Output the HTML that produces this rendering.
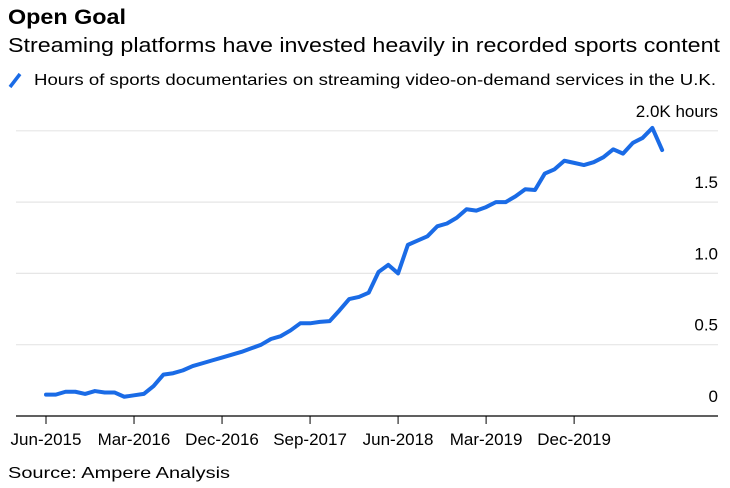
<!DOCTYPE html>
<html><head><meta charset="utf-8"><style>
body{margin:0;background:#fff}
svg{display:block;font-family:"Liberation Sans",Arial,sans-serif}
</style></head><body>
<svg id="c" width="730" height="488" viewBox="0 0 730 488">
<text x="8" y="24" font-size="21" font-weight="bold" fill="#000" textLength="118" lengthAdjust="spacingAndGlyphs">Open Goal</text>
<text x="8" y="52" font-size="20" fill="#000" textLength="712" lengthAdjust="spacingAndGlyphs">Streaming platforms have invested heavily in recorded sports content</text>
<line x1="10" y1="87" x2="20" y2="74" stroke="#1a6be6" stroke-width="3.5"/>
<text x="34" y="85" font-size="16" fill="#000" textLength="682" lengthAdjust="spacingAndGlyphs">Hours of sports documentaries on streaming video-on-demand services in the U.K.</text>
<g id="grid"></g><g id="xax"></g><g id="yax"></g><g id="series"></g>
<text x="8" y="478" font-size="16" fill="#000" textLength="222" lengthAdjust="spacingAndGlyphs">Source: Ampere Analysis</text>
</svg>
<script>
const values=[0.15,0.15,0.17,0.17,0.155,0.175,0.165,0.165,0.135,0.145,0.155,0.21,0.29,0.30,0.32,0.35,0.37,0.39,0.41,0.43,0.45,0.475,0.50,0.54,0.56,0.60,0.65,0.65,0.66,0.665,0.74,0.82,0.835,0.865,1.01,1.06,1.00,1.20,1.23,1.26,1.33,1.35,1.39,1.45,1.44,1.465,1.50,1.50,1.54,1.59,1.585,1.70,1.73,1.79,1.775,1.76,1.78,1.815,1.87,1.84,1.915,1.95,2.02,1.865];
const xTickLabels=["Jun-2015","Mar-2016","Dec-2016","Sep-2017","Jun-2018","Mar-2019","Dec-2019"];
const xTickIdx=[0,9,18,27,36,45,54];
const yTicks=[0,0.5,1.0,1.5,2.0];
const yTickLabels=["0","0.5","1.0","1.5","2.0K hours"];
const NS="http://www.w3.org/2000/svg";
const x=i=>46+i*9.78;
const y=v=>416-v*142.6;
function mk(t,a,p){const e=document.createElementNS(NS,t);for(const k in a)e.setAttribute(k,a[k]);p.appendChild(e);return e;}
const grid=document.getElementById('grid'),xax=document.getElementById('xax'),yax=document.getElementById('yax'),ser=document.getElementById('series');
yTicks.forEach((v,i)=>{
 if(v>0){const g=mk('line',{x1:16,x2:718,y1:y(v),y2:y(v),stroke:'#e6e6e6','stroke-width':1.2},grid);
 
 }
 const t=mk('text',{x:718,y:y(v)-14,'font-size':17,'text-anchor':'end',fill:'#000'},yax);
 t.textContent=yTickLabels[i];
 
 
});
const base=mk('line',{x1:16,x2:718,y1:416,y2:416,stroke:'#000','stroke-width':1.2},xax);


xTickIdx.forEach((idx,i)=>{
 const tk=mk('line',{x1:x(idx),x2:x(idx),y1:416,y2:424,stroke:'#000','stroke-width':1},xax);
 
 
 const t=mk('text',{x:x(idx),y:445,'font-size':17,'text-anchor':'middle',fill:'#000'},xax);
 t.textContent=xTickLabels[i];
 
 
});
const pl=mk('polyline',{points:values.map((v,i)=>x(i)+','+y(v)).join(' '),fill:'none',stroke:'#1a6be6','stroke-width':4,'stroke-linejoin':'round','stroke-linecap':'round'},ser);


</script>
</body></html>
